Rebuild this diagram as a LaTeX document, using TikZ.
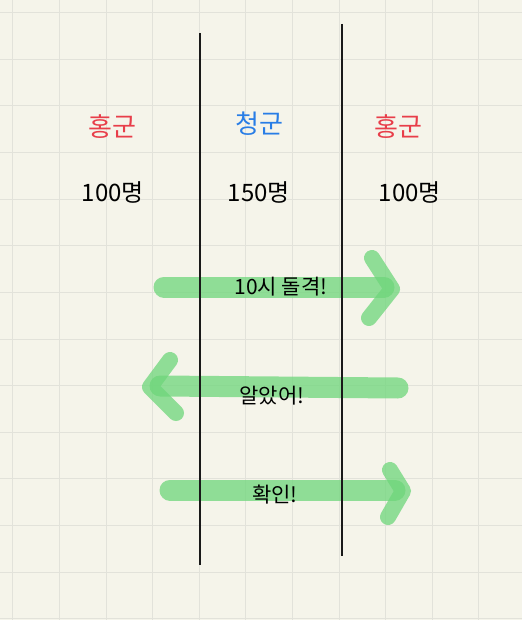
\documentclass[tikz,border=0pt]{standalone}
\usepackage{fontspec}
\newfontfamily\kr{Noto Sans CJK KR}
\definecolor{bgc}{RGB}{245,244,234}
\definecolor{gridc}{RGB}{226,226,218}
\definecolor{hongred}{RGB}{232,62,74}
\definecolor{cheongblue}{RGB}{40,125,230}
\definecolor{arrgreen}{RGB}{110,214,122}
\tikzset{
  team/.style={font=\kr\fontsize{26}{30}\selectfont, inner sep=0pt},
  count/.style={font=\kr\fontsize{24}{28}\selectfont, inner sep=0pt, text=black},
  msg/.style={font=\kr\fontsize{21}{25}\selectfont, inner sep=0pt, text=black},
  wall/.style={line width=2pt, draw=black!90},
  shaft/.style={line width=21pt, draw=arrgreen, draw opacity=0.75, line cap=round},
  head/.style={line width=16pt, draw=arrgreen, draw opacity=0.75, line cap=round, line join=round},
}
\begin{document}
\begin{tikzpicture}[x=1pt,y=-1pt]
\fill[bgc] (0,0) rectangle (522,620);
\useasboundingbox (0,0) rectangle (522,620);
\foreach \i in {0,...,11} \draw[gridc, line width=0.8pt] ({12.7+46.6*\i},0) -- ({12.7+46.6*\i},620);
\foreach \j in {0,...,13} \draw[gridc, line width=0.8pt] (0,{12.7+46.6*\j}) -- (522,{12.7+46.6*\j});
% teams
\node[team, text=hongred] (t1) at (112,127) {홍군};
\node[team, text=cheongblue] (t2) at (259,124) {청군};
\node[team, text=hongred] (t3) at (398,127) {홍군};
\node[count] (c1) at (113,192) {100명};
\node[count] (c2) at (259,192) {150명};
\node[count] (c3) at (410,192) {100명};
% arrow 1
\coordinate (a1s) at (164,287); \coordinate (a1e) at (384,287);
\draw[shaft] (a1s) -- (a1e);
\draw[head] (372,258) -- (392,289) -- (369,318);
% arrow 2
\coordinate (a2s) at (398,388); \coordinate (a2e) at (160,386);
\draw[shaft] (a2s) -- (a2e);
\draw[head] (170,360) -- (150,387) -- (176,413);
% arrow 3
\coordinate (a3s) at (170,490); \coordinate (a3e) at (395,490);
\draw[shaft] (a3s) -- (a3e);
\draw[head] (390,470) -- (403,491) -- (388,517);
% walls
\coordinate (w1t) at (200,33); \coordinate (w1b) at (200,565);
\coordinate (w2t) at (341.5,24); \coordinate (w2b) at (341.5,556);
\draw[wall] (w1t) -- (w1b);
\draw[wall] (w2t) -- (w2b);
% messages
\node[msg] (m1) at (281,287) {10시 돌격!};
\node[msg] (m2) at (272,396) {알았어!};
\node[msg] (m3) at (275,495) {확인!};
\end{tikzpicture}
\end{document}
